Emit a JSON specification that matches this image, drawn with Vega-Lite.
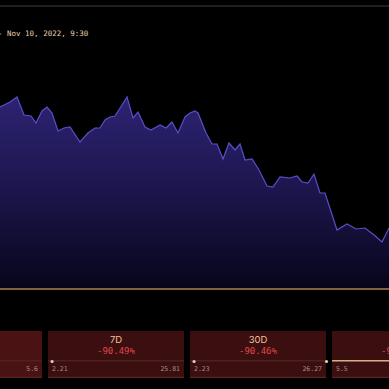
{
  "$schema": "https://vega.github.io/schema/vega-lite/v6.json",
  "width": 389,
  "height": 389,
  "padding": 0,
  "autosize": {"type": "none"},
  "background": "#000000",
  "config": {"view": {"stroke": null}},
  "datasets": {
    "price": [
      {"t": 0, "price": 5.44}, {"t": 4, "price": 5.48}, {"t": 10, "price": 5.54}, {"t": 17, "price": 5.64},
      {"t": 24, "price": 5.28}, {"t": 31, "price": 5.26}, {"t": 36, "price": 5.12}, {"t": 42, "price": 5.36},
      {"t": 47, "price": 5.44}, {"t": 52, "price": 5.32}, {"t": 58, "price": 4.96}, {"t": 64, "price": 5.02},
      {"t": 70, "price": 5.04}, {"t": 80, "price": 4.74}, {"t": 88, "price": 4.92}, {"t": 95, "price": 5.02},
      {"t": 100, "price": 5.02}, {"t": 105, "price": 5.18}, {"t": 110, "price": 5.24}, {"t": 115, "price": 5.26},
      {"t": 122, "price": 5.48}, {"t": 127, "price": 5.64}, {"t": 133, "price": 5.22}, {"t": 138, "price": 5.34},
      {"t": 145, "price": 5.04}, {"t": 151, "price": 4.98}, {"t": 160, "price": 5.08}, {"t": 166, "price": 5.02},
      {"t": 172, "price": 5.14}, {"t": 178, "price": 4.92}, {"t": 185, "price": 5.24}, {"t": 190, "price": 5.32},
      {"t": 195, "price": 5.36}, {"t": 198, "price": 5.32}, {"t": 206, "price": 4.92}, {"t": 212, "price": 4.70},
      {"t": 217, "price": 4.70}, {"t": 223, "price": 4.40}, {"t": 229, "price": 4.72}, {"t": 235, "price": 4.58},
      {"t": 240, "price": 4.70}, {"t": 245, "price": 4.38}, {"t": 252, "price": 4.40}, {"t": 259, "price": 4.18},
      {"t": 267, "price": 3.86}, {"t": 273, "price": 3.84}, {"t": 280, "price": 4.04}, {"t": 290, "price": 4.02},
      {"t": 297, "price": 4.06}, {"t": 302, "price": 3.94}, {"t": 308, "price": 3.92}, {"t": 314, "price": 4.10},
      {"t": 320, "price": 3.72}, {"t": 325, "price": 3.72}, {"t": 337, "price": 2.98}, {"t": 347, "price": 3.10},
      {"t": 356, "price": 3.00}, {"t": 365, "price": 3.02}, {"t": 374, "price": 2.88}, {"t": 382, "price": 2.74},
      {"t": 389, "price": 3.02}
    ],
    "title": [{"text": "- Nov 10, 2022, 9:30", "t": -2, "price": 6.9}],
    "panels": [
      {"period": "24H", "pct": "-46.68%", "lo": "2.74", "hi": "5.6"},
      {"period": "7D", "pct": "-90.49%", "lo": "2.21", "hi": "25.81"},
      {"period": "30D", "pct": "-90.46%", "lo": "2.23", "hi": "26.27"},
      {"period": "90D", "pct": "-91.04%", "lo": "5.5", "hi": "57.1"}
    ],
    "dots": [
      {"period": "7D", "frac": 0.03},
      {"period": "30D", "frac": 0.03},
      {"period": "90D", "frac": -0.04}
    ]
  },
  "layer": [
    {
      "layer": [
        {
          "data": {"name": "price"},
          "mark": {
            "type": "area",
            "color": {
              "gradient": "linear", "x1": 0, "y1": 0, "x2": 0, "y2": 1,
              "stops": [
                {"offset": 0, "color": "#2d2372"},
                {"offset": 0.45, "color": "#1d174f"},
                {"offset": 1, "color": "#07051a"}
              ]
            }
          },
          "encoding": {
            "x": {"field": "t", "type": "quantitative", "axis": null, "scale": {"domain": [0, 389], "nice": false, "zero": false}},
            "y": {"field": "price", "type": "quantitative", "axis": null, "scale": {"domain": [-0.2, 7.58], "nice": false, "zero": false}},
            "y2": {"datum": 1.8}
          }
        },
        {
          "data": {"name": "price"},
          "mark": {"type": "line", "color": "#5a4ecc", "strokeWidth": 1.2},
          "encoding": {
            "x": {"field": "t", "type": "quantitative", "axis": null, "scale": {"domain": [0, 389], "nice": false, "zero": false}},
            "y": {"field": "price", "type": "quantitative", "axis": null, "scale": {"domain": [-0.2, 7.58], "nice": false, "zero": false}}
          }
        },
        {
          "data": {"name": "price"},
          "mark": {"type": "rule", "color": "#1f1f1f", "strokeWidth": 2},
          "encoding": {
            "y": {"datum": 7.46, "type": "quantitative", "axis": null, "scale": {"domain": [-0.2, 7.58], "nice": false, "zero": false}}
          }
        },
        {
          "data": {"name": "price"},
          "mark": {"type": "rule", "color": "#86633f", "strokeWidth": 1.6},
          "encoding": {
            "y": {"datum": 1.8, "type": "quantitative", "axis": null, "scale": {"domain": [-0.2, 7.58], "nice": false, "zero": false}}
          }
        },
        {
          "data": {"name": "title"},
          "mark": {"type": "text", "font": "DejaVu Sans Mono", "fontSize": 7.5, "color": "#e6cfa8", "align": "left", "baseline": "middle"},
          "encoding": {
            "x": {"field": "t", "type": "quantitative", "axis": null, "scale": {"domain": [0, 389], "nice": false, "zero": false}},
            "y": {"field": "price", "type": "quantitative", "axis": null, "scale": {"domain": [-0.2, 7.58], "nice": false, "zero": false}},
            "text": {"field": "text"}
          }
        }
      ]
    },
    {
      "data": {"name": "panels"},
      "layer": [
        {
          "mark": {"type": "rect"},
          "encoding": {
            "x": {"field": "period", "type": "nominal", "axis": null, "scale": {"type": "band", "domain": ["24H", "7D", "30D", "90D"], "range": [-97, 471], "paddingInner": 0.042, "paddingOuter": 0.021}},
            "y": {"datum": 0.96, "type": "quantitative"},
            "y2": {"datum": 0.02},
            "color": {"condition": {"test": "datum.period === '24H'", "value": "#4a1213"}, "value": "#3b0e0f"}
          }
        },
        {
          "mark": {"type": "rect", "color": "#5a2424"},
          "encoding": {
            "x": {"field": "period", "type": "nominal", "axis": null, "scale": {"type": "band", "domain": ["24H", "7D", "30D", "90D"], "range": [-97, 471], "paddingInner": 0.042, "paddingOuter": 0.021}},
            "y": {"datum": 0.045, "type": "quantitative"},
            "y2": {"datum": 0.02}
          }
        },
        {
          "mark": {"type": "rect", "color": "#4e2020"},
          "encoding": {
            "x": {"field": "period", "type": "nominal", "axis": null, "scale": {"type": "band", "domain": ["24H", "7D", "30D", "90D"], "range": [-97, 471], "paddingInner": 0.042, "paddingOuter": 0.021}},
            "y": {"datum": 0.38, "type": "quantitative"},
            "y2": {"datum": 0.35}
          }
        },
        {
          "transform": [{"filter": "datum.period === '90D'"}],
          "mark": {"type": "rect", "color": "#d4ae86"},
          "encoding": {
            "x": {"field": "period", "type": "nominal", "axis": null, "scale": {"type": "band", "domain": ["24H", "7D", "30D", "90D"], "range": [-97, 471], "paddingInner": 0.042, "paddingOuter": 0.021}},
            "y": {"datum": 0.38, "type": "quantitative"},
            "y2": {"datum": 0.35}
          }
        },
        {
          "mark": {"type": "text", "font": "Inter", "fontSize": 9.5, "color": "#f0c39a", "baseline": "middle", "align": "center"},
          "encoding": {
            "x": {"field": "period", "type": "nominal", "axis": null, "scale": {"type": "band", "domain": ["24H", "7D", "30D", "90D"], "range": [-97, 471], "paddingInner": 0.042, "paddingOuter": 0.021}},
            "y": {"datum": 0.78, "type": "quantitative"},
            "text": {"field": "period"}
          }
        },
        {
          "mark": {"type": "text", "font": "DejaVu Sans Mono", "fontSize": 9, "color": "#e0474c", "baseline": "middle", "align": "center"},
          "encoding": {
            "x": {"field": "period", "type": "nominal", "axis": null, "scale": {"type": "band", "domain": ["24H", "7D", "30D", "90D"], "range": [-97, 471], "paddingInner": 0.042, "paddingOuter": 0.021}},
            "y": {"datum": 0.56, "type": "quantitative"},
            "text": {"field": "pct"}
          }
        },
        {
          "mark": {"type": "text", "font": "DejaVu Sans Mono", "fontSize": 6.5, "color": "#a39088", "baseline": "middle", "align": "left", "dx": 4},
          "encoding": {
            "x": {"field": "period", "type": "nominal", "bandPosition": 0, "axis": null, "scale": {"type": "band", "domain": ["24H", "7D", "30D", "90D"], "range": [-97, 471], "paddingInner": 0.042, "paddingOuter": 0.021}},
            "y": {"datum": 0.2, "type": "quantitative"},
            "text": {"field": "lo"}
          }
        },
        {
          "mark": {"type": "text", "font": "DejaVu Sans Mono", "fontSize": 6.5, "color": "#a39088", "baseline": "middle", "align": "right", "dx": -4},
          "encoding": {
            "x": {"field": "period", "type": "nominal", "bandPosition": 1, "axis": null, "scale": {"type": "band", "domain": ["24H", "7D", "30D", "90D"], "range": [-97, 471], "paddingInner": 0.042, "paddingOuter": 0.021}},
            "y": {"datum": 0.2, "type": "quantitative"},
            "text": {"field": "hi"}
          }
        },
        {
          "data": {"name": "dots"},
          "mark": {"type": "circle", "color": "#e2d2c2", "opacity": 1, "size": 10},
          "encoding": {
            "x": {"field": "period", "type": "nominal", "axis": null, "scale": {"type": "band", "domain": ["24H", "7D", "30D", "90D"], "range": [-97, 471], "paddingInner": 0.042, "paddingOuter": 0.021}},
            "xOffset": {"field": "frac", "type": "quantitative", "scale": {"domain": [0, 1], "zero": false, "nice": false}},
            "y": {"datum": 0.35, "type": "quantitative"}
          }
        }
      ],
      "resolve": {"scale": {"xOffset": "independent"}}
    }
  ],
  "resolve": {"scale": {"x": "independent"}}
}
